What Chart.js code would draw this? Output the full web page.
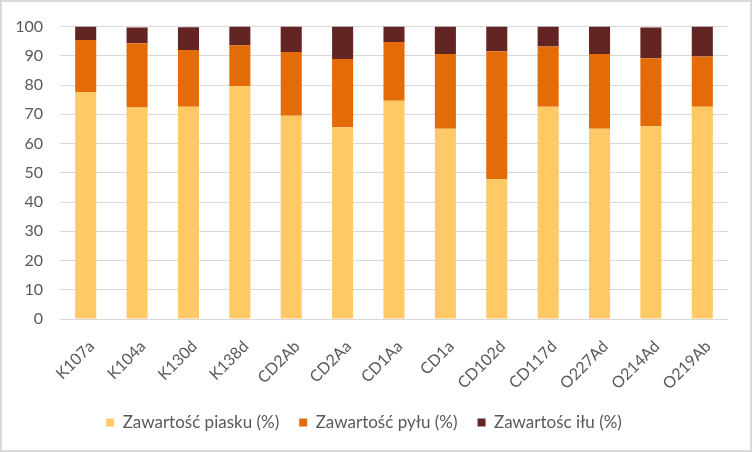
<!DOCTYPE html>
<html>
<head>
<meta charset="utf-8">
<script src="https://cdn.jsdelivr.net/npm/chart.js@4/dist/chart.umd.min.js"></script>
<style>
  html, body { margin: 0; padding: 0; background: #fff; }
  #wrap { position: relative; width: 752px; height: 452px; }
  #frame { position: absolute; left: 0; top: 0; right: 0; bottom: 0; border: 2px solid #d9d9d9; box-sizing: border-box; pointer-events: none; }
</style>
</head>
<body>
<div id="wrap">
  <canvas id="soilChart" width="752" height="452"></canvas>
  <div id="frame"></div>
</div>
<script>
const samples = ["K107a", "K104a", "K130d", "K138d", "CD2Ab", "CD2Aa", "CD1Aa", "CD1a", "CD102d", "CD117d", "O227Ad", "O214Ad", "O219Ab"];
const sand = [77.6, 72.3, 72.6, 79.7, 69.5, 65.6, 74.6, 65.1, 47.8, 72.6, 65.1, 65.9, 72.6];
const silt = [17.8, 22.0, 19.4, 13.9, 21.8, 23.3, 20.1, 25.5, 43.8, 20.6, 25.5, 23.3, 17.2];
const clay = [4.6, 5.4, 7.8, 6.4, 8.7, 11.1, 5.3, 9.4, 8.4, 6.8, 9.4, 10.5, 10.2];

const textColor = '#595959';
const gridColor = '#d9d9d9';
const fontFamily = 'Lato, "Open Sans", sans-serif';

function drawChart() {
    const ctx = document.getElementById("soilChart").getContext("2d");

    new Chart(ctx, {
        type: 'bar',
        data: {
            labels: samples,
            datasets: [
                { label: 'Zawartość piasku (%)', data: sand, backgroundColor: '#FFC966' },
                { label: 'Zawartość pyłu (%)', data: silt, backgroundColor: '#E36C09' },
                { label: 'Zawartośc iłu (%)', data: clay, backgroundColor: '#632523' }
            ]
        },
        options: {
            responsive: false,
            animation: false,
            layout: { autoPadding: false, padding: { left: 0, right: 24, top: 24, bottom: 11 } },
            datasets: { bar: { categoryPercentage: 0.41, barPercentage: 1.0 } },
            plugins: {
                tooltip: { enabled: false },
                legend: {
                    position: 'bottom',
                    labels: {
                        color: textColor,
                        font: { family: fontFamily, size: 17 },
                        boxWidth: 8,
                        boxHeight: 8,
                        padding: 20
                    }
                }
            },
            scales: {
                x: {
                    stacked: true,
                    grid: { display: false },
                    border: { display: false },
                    ticks: {
                        color: textColor,
                        font: { family: fontFamily, size: 16 },
                        minRotation: 45,
                        maxRotation: 45,
                        padding: 10,
                        labelOffset: 6
                    },
                    afterFit: scale => { scale.height = 75; }
                },
                y: {
                    stacked: true,
                    min: 0,
                    max: 100,
                    grid: { color: gridColor, drawTicks: false },
                    border: { display: false },
                    ticks: {
                        stepSize: 10,
                        color: textColor,
                        font: { family: fontFamily, size: 16 },
                        padding: 17
                    },
                    afterFit: scale => { scale.width = 60; }
                }
            }
        }
    });
}

drawChart();
</script>
</body>
</html>
